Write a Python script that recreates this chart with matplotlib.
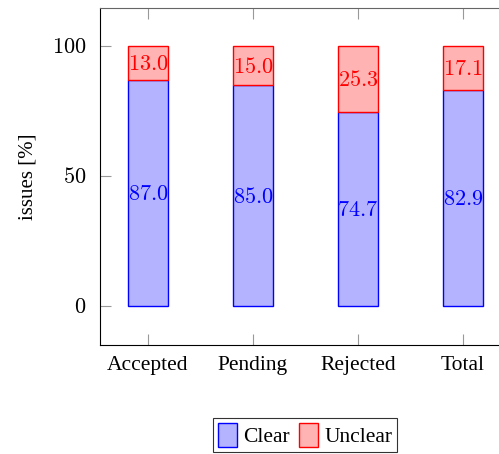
import matplotlib
matplotlib.use("Agg")
import matplotlib.pyplot as plt
import numpy as np

categories = ["Accepted", "Pending", "Rejected", "Total"]
clear = [87.0, 85.0, 74.7, 82.9]
unclear = [13.0, 15.0, 25.3, 17.1]
yticks = [0, 50, 100]

plt.rcParams["font.family"] = ["Liberation Serif", "DejaVu Serif"]
plt.rcParams["mathtext.fontset"] = "cm"

fig = plt.figure(figsize=(4.99, 4.54), dpi=100)
ax = fig.add_axes([100 / 499, 1 - 345 / 454, 411 / 499, 337 / 454])

x = np.arange(len(categories))
w = 0.39
blue_fill = (0.7, 0.7, 1.0)
red_fill = (1.0, 0.7, 0.7)

b1 = ax.bar(x, clear, width=w, color=blue_fill, edgecolor="blue", linewidth=1.0, label="Clear")
b2 = ax.bar(x, unclear, width=w, bottom=clear, color=red_fill, edgecolor="red", linewidth=1.0, label="Unclear")

for xi, c, u in zip(x, clear, unclear):
    ax.text(xi, c / 2, f"${c:.1f}$", color="blue", ha="center", va="center_baseline", fontsize=16)
    ax.text(xi, c + u / 2, f"${u:.1f}$", color="red", ha="center", va="center_baseline", fontsize=16)

ax.set_xlim(-0.457, 3.457)
ax.set_ylim(-15, 114.6)
ax.set_xticks(x)
ax.set_xticklabels(categories, fontsize=15.5)
ax.set_yticks(yticks)
ax.set_yticklabels([f"${t}$" for t in yticks], fontsize=16)
ax.set_ylabel("issues [%]", fontsize=15, labelpad=10)

ax.tick_params(axis="x", direction="in", length=8, color="#999999", top=True, pad=8)
ax.tick_params(axis="y", direction="in", length=8, color="#999999", pad=10)
ax.spines["left"].set_color("black")
ax.spines["bottom"].set_color("black")
ax.spines["top"].set_color("#666666")
ax.spines["right"].set_visible(False)

leg = fig.legend(handles=[b1, b2], loc="center", bbox_to_anchor=(305 / 499, 1 - 435 / 454),
                 ncol=2, fontsize=15.5, frameon=True, fancybox=False, edgecolor="black",
                 handlelength=0.9, handleheight=1.4, handletextpad=0.3, columnspacing=0.4,
                 borderpad=0.2, borderaxespad=0)
leg.get_frame().set_linewidth(0.8)

fig.savefig("out.png", dpi=100)
